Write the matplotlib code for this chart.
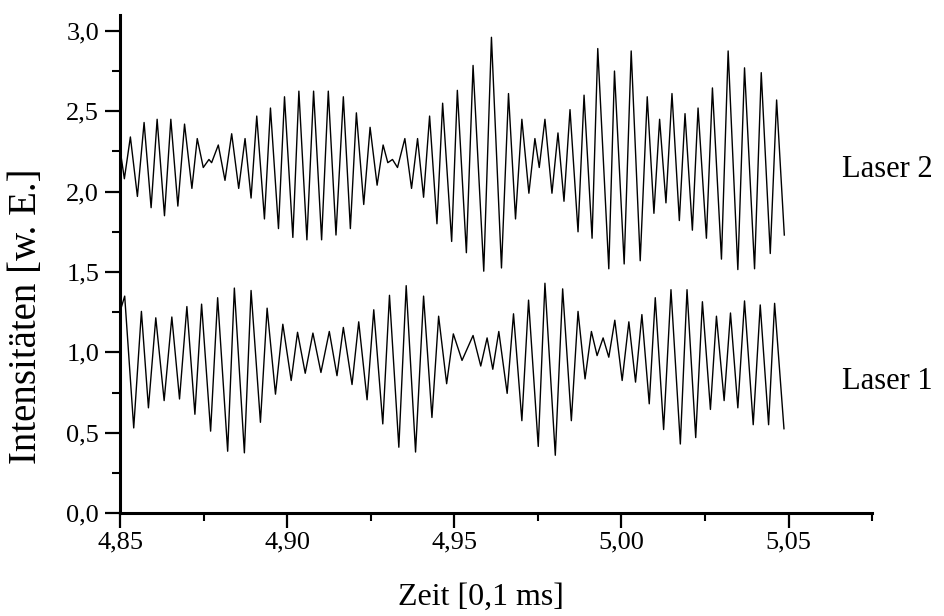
import matplotlib
matplotlib.use("Agg")
import matplotlib.pyplot as plt
from matplotlib.ticker import MultipleLocator, FuncFormatter

plt.rcParams["font.family"] = ["Liberation Serif", "DejaVu Serif"]

# Laser 2: extrema (time [0,1 ms], intensity)
t_laser2 = [4.8501, 4.8513, 4.8531, 4.8552, 4.8572, 4.8593, 4.8611, 4.8633, 4.8652, 4.8673,
            4.8693, 4.8715, 4.8731, 4.8749, 4.8766, 4.8774, 4.8794, 4.8814, 4.8834, 4.8855,
            4.8874, 4.8892, 4.8909, 4.8932, 4.8950, 4.8974, 4.8992, 4.9017, 4.9035, 4.9059,
            4.9079, 4.9103, 4.9123, 4.9146, 4.9168, 4.9189, 4.9207, 4.9229, 4.9248, 4.9269,
            4.9287, 4.9301, 4.9315, 4.9330, 4.9352, 4.9372, 4.9390, 4.9408, 4.9426, 4.9448,
            4.9465, 4.9492, 4.9509, 4.9536, 4.9556, 4.9588, 4.9611, 4.9641, 4.9662, 4.9683,
            4.9702, 4.9723, 4.9741, 4.9754, 4.9771, 4.9792, 4.9810, 4.9828, 4.9846, 4.9870,
            4.9888, 4.9912, 4.9929, 4.9962, 4.9979, 5.0008, 5.0029, 5.0056, 5.0077, 5.0097,
            5.0114, 5.0133, 5.0151, 5.0173, 5.0190, 5.0212, 5.0229, 5.0254, 5.0272, 5.0299,
            5.0319, 5.0348, 5.0368, 5.0398, 5.0418, 5.0445, 5.0464, 5.0487]
i_laser2 = [2.25, 2.08, 2.34, 1.97, 2.43, 1.90, 2.45, 1.85, 2.45, 1.91,
            2.42, 2.02, 2.33, 2.15, 2.20, 2.18, 2.29, 2.07, 2.36, 2.02,
            2.33, 1.96, 2.47, 1.83, 2.52, 1.77, 2.59, 1.715, 2.625, 1.70,
            2.625, 1.70, 2.625, 1.73, 2.59, 1.77, 2.49, 1.92, 2.40, 2.04,
            2.29, 2.18, 2.20, 2.15, 2.33, 2.02, 2.33, 1.965, 2.47, 1.80,
            2.55, 1.69, 2.63, 1.62, 2.785, 1.505, 2.96, 1.525, 2.61, 1.83,
            2.45, 1.99, 2.33, 2.15, 2.45, 1.99, 2.365, 1.94, 2.51, 1.75,
            2.60, 1.71, 2.89, 1.52, 2.75, 1.55, 2.875, 1.57, 2.59, 1.865,
            2.45, 1.93, 2.61, 1.82, 2.485, 1.76, 2.52, 1.71, 2.645, 1.58,
            2.875, 1.515, 2.77, 1.52, 2.74, 1.615, 2.57, 1.73]

# Laser 1
t_laser1 = [4.8501, 4.8514, 4.8541, 4.8564, 4.8585, 4.8607, 4.8632, 4.8655, 4.8678, 4.8700,
            4.8724, 4.8744, 4.8771, 4.8792, 4.8822, 4.8842, 4.8872, 4.8892, 4.8920, 4.8940,
            4.8965, 4.8987, 4.9012, 4.9031, 4.9054, 4.9077, 4.9101, 4.9126, 4.9149, 4.9168,
            4.9194, 4.9214, 4.9239, 4.9259, 4.9286, 4.9306, 4.9334, 4.9356, 4.9384, 4.9408,
            4.9433, 4.9453, 4.9477, 4.9497, 4.9523, 4.9556, 4.9579, 4.9598, 4.9615, 4.9633,
            4.9658, 4.9677, 4.9702, 4.9722, 4.9751, 4.9771, 4.9802, 4.9824, 4.9850, 4.9870,
            4.9891, 4.9910, 4.9927, 4.9945, 4.9962, 4.9980, 5.0002, 5.0022, 5.0042, 5.0061,
            5.0083, 5.0101, 5.0126, 5.0148, 5.0176, 5.0196, 5.0222, 5.0242, 5.0266, 5.0284,
            5.0307, 5.0326, 5.0348, 5.0368, 5.0394, 5.0415, 5.0440, 5.0458, 5.0486]
i_laser1 = [1.26, 1.35, 0.53, 1.255, 0.655, 1.215, 0.70, 1.22, 0.71, 1.285,
            0.615, 1.30, 0.51, 1.34, 0.385, 1.40, 0.375, 1.385, 0.565, 1.275,
            0.74, 1.175, 0.825, 1.125, 0.87, 1.12, 0.875, 1.13, 0.855, 1.155,
            0.80, 1.19, 0.705, 1.265, 0.555, 1.355, 0.41, 1.415, 0.38, 1.35,
            0.595, 1.225, 0.805, 1.115, 0.95, 1.105, 0.915, 1.09, 0.895, 1.13,
            0.745, 1.24, 0.575, 1.325, 0.415, 1.43, 0.36, 1.395, 0.575, 1.255,
            0.835, 1.13, 0.98, 1.09, 0.97, 1.20, 0.825, 1.19, 0.815, 1.235,
            0.68, 1.34, 0.52, 1.39, 0.43, 1.39, 0.47, 1.315, 0.645, 1.225,
            0.70, 1.245, 0.655, 1.32, 0.55, 1.295, 0.55, 1.305, 0.525]

x_ticks = [4.85, 4.90, 4.95, 5.00, 5.05]
y_ticks = [0.0, 0.5, 1.0, 1.5, 2.0, 2.5, 3.0]

fig = plt.figure(figsize=(9.45, 6.16), dpi=100)
ax = fig.add_axes([0.127, 0.167, 0.796, 0.809])

ax.plot(t_laser2, i_laser2, color="black", lw=1.0, solid_joinstyle="round")
ax.plot(t_laser1, i_laser1, color="black", lw=1.0, solid_joinstyle="round")

ax.set_xlim(4.85, 5.075)
ax.set_ylim(0, 3.1)

ax.set_xticks(x_ticks)
ax.set_yticks(y_ticks)
ax.xaxis.set_major_formatter(FuncFormatter(lambda v, p: f"{v:.2f}".replace(".", ",")))
ax.yaxis.set_major_formatter(FuncFormatter(lambda v, p: f"{v:.1f}".replace(".", ",")))
ax.xaxis.set_minor_locator(MultipleLocator(0.025))
ax.yaxis.set_minor_locator(MultipleLocator(0.25))

for s in ["top", "right"]:
    ax.spines[s].set_visible(False)
for s in ["left", "bottom"]:
    ax.spines[s].set_linewidth(2.2)

ax.tick_params(which="major", direction="out", length=11, width=1.6, labelsize=19)
ax.tick_params(axis="x", which="major", pad=2)
ax.tick_params(axis="y", which="major", pad=4)
ax.tick_params(which="minor", direction="out", length=6, width=1.5)

fig.text(481 / 945, 0.031, "Zeit [0,1 ms]", fontsize=23, ha="center", va="center")
fig.text(27 / 945, 0.487, "Intensitäten [w. E.]", fontsize=28, rotation=90,
         ha="center", va="center")

ax.text(5.066, 2.14, "Laser 2", fontsize=22, ha="left", va="center", clip_on=False)
ax.text(5.066, 0.82, "Laser 1", fontsize=22, ha="left", va="center", clip_on=False)

fig.savefig("out.png", dpi=100)
